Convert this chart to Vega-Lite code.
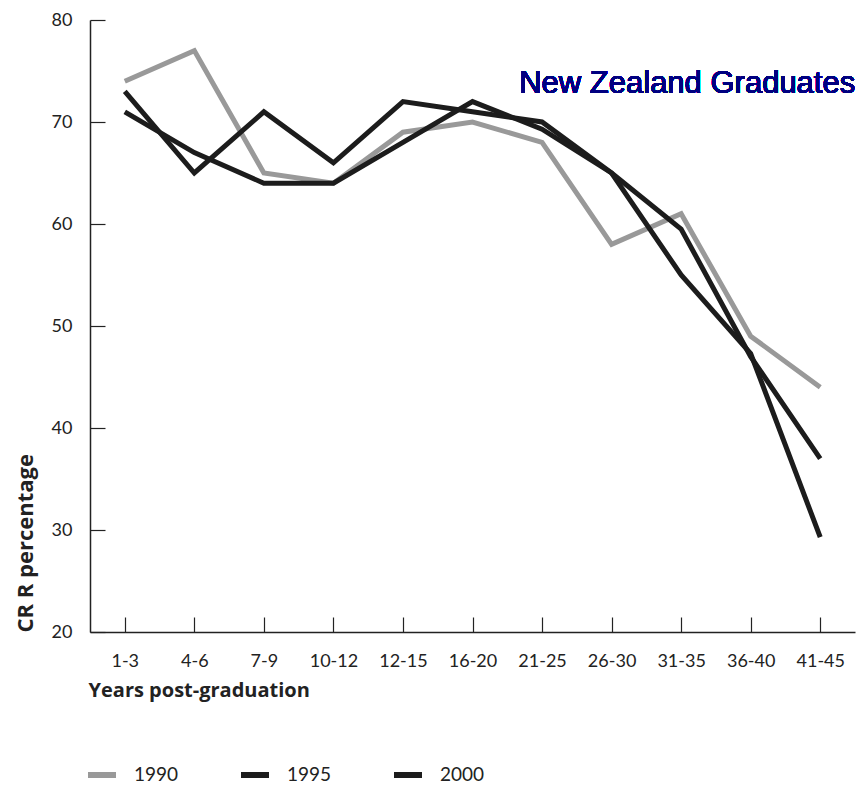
{
  "$schema": "https://vega.github.io/schema/vega-lite/v6.json",
  "autosize": {"type": "none"},
  "width": 765,
  "height": 612,
  "padding": {"left": 90, "top": 20, "right": 6, "bottom": 157},
  "background": "white",
  "config": {"view": {"stroke": null}},
  "data": {"values": [
    {"years": "1-3", "cohort": "1990", "crr": 74},
    {"years": "4-6", "cohort": "1990", "crr": 77},
    {"years": "7-9", "cohort": "1990", "crr": 65},
    {"years": "10-12", "cohort": "1990", "crr": 64},
    {"years": "12-15", "cohort": "1990", "crr": 69},
    {"years": "16-20", "cohort": "1990", "crr": 70},
    {"years": "21-25", "cohort": "1990", "crr": 68},
    {"years": "26-30", "cohort": "1990", "crr": 58},
    {"years": "31-35", "cohort": "1990", "crr": 61},
    {"years": "36-40", "cohort": "1990", "crr": 49},
    {"years": "41-45", "cohort": "1990", "crr": 44},
    {"years": "1-3", "cohort": "1995", "crr": 73},
    {"years": "4-6", "cohort": "1995", "crr": 65},
    {"years": "7-9", "cohort": "1995", "crr": 71},
    {"years": "10-12", "cohort": "1995", "crr": 66},
    {"years": "12-15", "cohort": "1995", "crr": 72},
    {"years": "16-20", "cohort": "1995", "crr": 71},
    {"years": "21-25", "cohort": "1995", "crr": 70},
    {"years": "26-30", "cohort": "1995", "crr": 65},
    {"years": "31-35", "cohort": "1995", "crr": 59.5},
    {"years": "36-40", "cohort": "1995", "crr": 47},
    {"years": "41-45", "cohort": "1995", "crr": 37},
    {"years": "1-3", "cohort": "2000", "crr": 71},
    {"years": "4-6", "cohort": "2000", "crr": 67},
    {"years": "7-9", "cohort": "2000", "crr": 64},
    {"years": "10-12", "cohort": "2000", "crr": 64},
    {"years": "12-15", "cohort": "2000", "crr": 68},
    {"years": "16-20", "cohort": "2000", "crr": 72},
    {"years": "21-25", "cohort": "2000", "crr": 69.3},
    {"years": "26-30", "cohort": "2000", "crr": 65},
    {"years": "31-35", "cohort": "2000", "crr": 55},
    {"years": "36-40", "cohort": "2000", "crr": 47.3},
    {"years": "41-45", "cohort": "2000", "crr": 29.3}
  ]},
  "layer": [
    {
      "mark": {"type": "line", "strokeWidth": 5, "strokeJoin": "miter"},
      "encoding": {
        "x": {
          "field": "years", "type": "ordinal",
          "sort": ["1-3","4-6","7-9","10-12","12-15","16-20","21-25","26-30","31-35","36-40","41-45"],
          "scale": {"type": "point", "padding": 0.5},
          "axis": {
            "title": "Years post-graduation",
            "titleFont": "Open Sans", "titleFontSize": 20, "titleFontWeight": "bold", "titleColor": "#222",
            "titleX": -2, "titleY": 58, "titleAlign": "left", "titleBaseline": "middle", "titleAnchor": null,
            "labelAngle": 0, "labelFont": "Lato", "labelFontSize": 18, "labelColor": "#222",
            "labelPadding": 35, "labelBaseline": "top",
            "ticks": true, "tickSize": -15, "tickColor": "#222", "tickOpacity": 1, "domainColor": "#222", "domainWidth": 1.5, "tickWidth": 1.2,
            "grid": false
          }
        },
        "y": {
          "field": "crr", "type": "quantitative",
          "scale": {"domain": [20, 80], "nice": false, "zero": false},
          "axis": {
            "title": "CR R percentage",
            "values": [20, 30, 40, 50, 60, 70, 80],
            "titleFont": "Open Sans", "titleFontSize": 22, "titleFontWeight": "bold", "titleColor": "#222",
            "titleX": -65, "titleY": 612, "titleAngle": -90, "titleAlign": "left", "titleBaseline": "middle",
            "labelFont": "Lato", "labelFontSize": 18, "labelColor": "#222", "labelPadding": 33,
            "ticks": true, "tickSize": -15, "tickColor": "#222", "tickOpacity": 1, "domainColor": "#222", "domainWidth": 1.5, "tickWidth": 1.2,
            "grid": false
          }
        },
        "color": {
          "field": "cohort", "type": "nominal",
          "scale": {"domain": ["1990", "1995", "2000"], "range": ["#999999", "#1c1c1c", "#1c1c1c"]},
          "legend": {
            "title": null, "orient": "none", "direction": "horizontal",
            "legendX": -5, "legendY": 738,
            "symbolType": "stroke", "symbolSize": 784, "symbolStrokeWidth": 6,
            "labelFont": "Lato", "labelFontSize": 19, "labelColor": "#222",
            "labelOffset": 15, "columnPadding": 50
          }
        }
      }
    },
    {
      "mark": {"type": "text", "font": "Liberation Sans", "fontSize": 31, "fill": "#000080", "strokeWidth": 0, "align": "right", "baseline": "alphabetic", "dx": 35},
      "encoding": {
        "x": {"datum": "41-45", "type": "ordinal"},
        "y": {"datum": 72.8, "type": "quantitative"},
        "text": {"value": "New Zealand Graduates"}
      }
    }
  ]
}
